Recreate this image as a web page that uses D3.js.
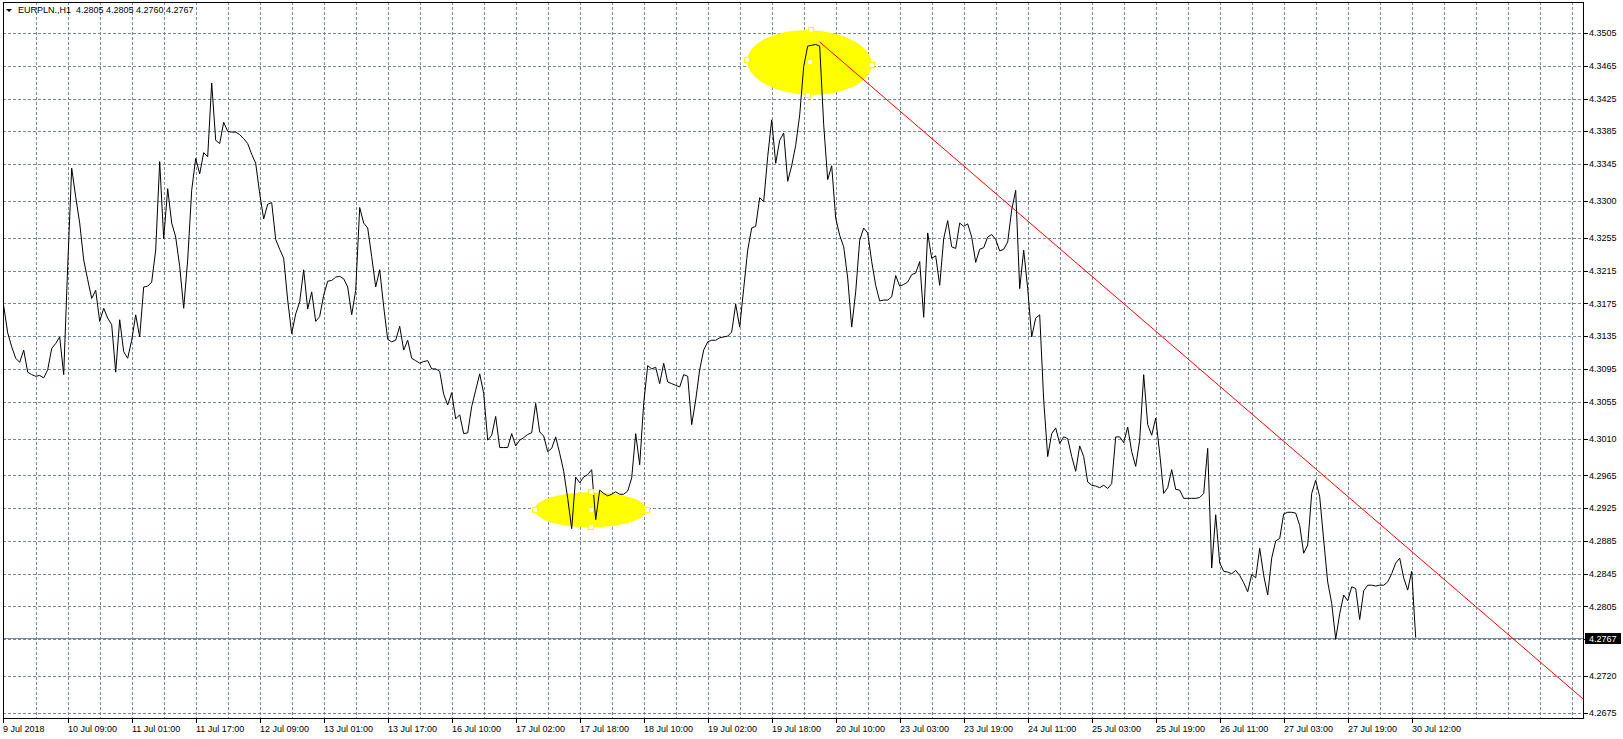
<!DOCTYPE html>
<html>
<head>
<meta charset="utf-8">
<script src="https://cdn.jsdelivr.net/npm/d3@7"></script>
<style>
    body { margin: 0; background: #fff; }
    svg text { font-family: Tahoma, "Liberation Sans", Arial, sans-serif; font-size: 9px; fill: #000; white-space: pre; }
</style>
</head>
<body>
<svg id="chart-svg" width="1623" height="739"></svg>
<script>
// EURPLN H1 closes, one per hourly bar
const symbol = 'EURPLN.,H1'
const lastBar = [4.2805, 4.2805, 4.2760, 4.2767]
const closes = [
    4.3172, 4.3139, 4.3122, 4.3108, 4.3103, 4.3118, 4.3091, 4.3088, 4.3086, 4.3087,
    4.3084, 4.3094, 4.3120, 4.3126, 4.3134, 4.3088, 4.3220, 4.3340, 4.3305, 4.3273,
    4.3228, 4.3204, 4.3181, 4.3191, 4.3153, 4.3169, 4.3157, 4.3149, 4.3091, 4.3155,
    4.3116, 4.3108, 4.3130, 4.3161, 4.3134, 4.3195, 4.3196, 4.3201, 4.3240, 4.3348,
    4.3254, 4.3315, 4.3273, 4.3256, 4.3220, 4.3169, 4.3228, 4.3313, 4.3352, 4.3333,
    4.3359, 4.3354, 4.3444, 4.3374, 4.3370, 4.3396, 4.3385, 4.3384, 4.3384, 4.3381,
    4.3376, 4.3370, 4.3357, 4.3346, 4.3309, 4.3278, 4.3296, 4.3298, 4.3253, 4.3241,
    4.3230, 4.3179, 4.3138, 4.3162, 4.3177, 4.3216, 4.3168, 4.3189, 4.3153, 4.3159,
    4.3185, 4.3202, 4.3203, 4.3207, 4.3208, 4.3205, 4.3195, 4.3161, 4.3191, 4.3292,
    4.3273, 4.3267, 4.3232, 4.3195, 4.3216, 4.3171, 4.3131, 4.3128, 4.3130, 4.3147,
    4.3118, 4.3130, 4.3108, 4.3105, 4.3102, 4.3104, 4.3105, 4.3095, 4.3095, 4.3092,
    4.3064, 4.3051, 4.3066, 4.3034, 4.3039, 4.3016, 4.3017, 4.3049, 4.3069, 4.3089,
    4.3065, 4.3008, 4.3014, 4.3037, 4.2999, 4.2999, 4.2999, 4.3016, 4.3001, 4.3008,
    4.3011, 4.3015, 4.3017, 4.3053, 4.3018, 4.3013, 4.2994, 4.2998, 4.3012, 4.2992,
    4.2970, 4.2937, 4.2900, 4.2963, 4.2956, 4.2963, 4.2966, 4.2972, 4.2911, 4.2947,
    4.2943, 4.2940, 4.2942, 4.2945, 4.2942, 4.2942, 4.2946, 4.2962, 4.3016, 4.2978,
    4.3053, 4.3099, 4.3095, 4.3097, 4.3077, 4.3102, 4.3079, 4.3077, 4.3075, 4.3073,
    4.3088, 4.3086, 4.3027, 4.3057, 4.3094, 4.3118, 4.3128, 4.3130, 4.3130, 4.3133,
    4.3134, 4.3135, 4.3140, 4.3174, 4.3146, 4.3193, 4.3240, 4.3267, 4.3269, 4.3304,
    4.3299, 4.3354, 4.3399, 4.3346, 4.3374, 4.3383, 4.3324, 4.3343, 4.3368, 4.3405,
    4.3464, 4.3489, 4.3490, 4.3491, 4.3489, 4.3393, 4.3326, 4.3343, 4.3279, 4.3258,
    4.3244, 4.3206, 4.3146, 4.3189, 4.3252, 4.3267, 4.3261, 4.3226, 4.3197, 4.3178,
    4.3179, 4.3179, 4.3183, 4.3209, 4.3196, 4.3198, 4.3201, 4.3210, 4.3212, 4.3226,
    4.3158, 4.3261, 4.3230, 4.3233, 4.3197, 4.3254, 4.3276, 4.3244, 4.3242, 4.3273,
    4.3269, 4.3272, 4.3256, 4.3225, 4.3241, 4.3243, 4.3256, 4.3259, 4.3253, 4.3239,
    4.3241, 4.3250, 4.3289, 4.3313, 4.3193, 4.3240, 4.3193, 4.3134, 4.3157, 4.3161,
    4.3057, 4.2988, 4.3016, 4.3023, 4.3004, 4.3012, 4.3010, 4.2988, 4.2970, 4.3001,
    4.2988, 4.2957, 4.2953, 4.2952, 4.2950, 4.2953, 4.2949, 4.2955, 4.3012, 4.3012,
    4.3005, 4.3024, 4.2994, 4.2976, 4.3008, 4.3088, 4.3027, 4.3014, 4.3035, 4.2992,
    4.2943, 4.2950, 4.2972, 4.2948, 4.2947, 4.2937, 4.2937, 4.2937, 4.2937, 4.2938,
    4.2943, 4.2998, 4.2852, 4.2917, 4.2858, 4.2848, 4.2847, 4.2845, 4.2849, 4.2843,
    4.2834, 4.2823, 4.2844, 4.2840, 4.2876, 4.2843, 4.2819, 4.2864, 4.2885, 4.2888,
    4.2918, 4.2920, 4.2920, 4.2919, 4.2904, 4.2870, 4.2880, 4.2943, 4.2959, 4.2939,
    4.2886, 4.2835, 4.2809, 4.2765, 4.2796, 4.2819, 4.2812, 4.2829, 4.2827, 4.2789,
    4.2824, 4.2831, 4.2831, 4.2830, 4.2831, 4.2831, 4.2835, 4.2845, 4.2858, 4.2864,
    4.2840, 4.2825, 4.2848, 4.2767
]

// price grid levels (4.2765 is covered by the bid label)
const priceTicks = [4.3505, 4.3465, 4.3425, 4.3385, 4.3345, 4.3300, 4.3255, 4.3215, 4.3175, 4.3135,
    4.3095, 4.3055, 4.3010, 4.2965, 4.2925, 4.2885, 4.2845, 4.2805, 4.2765, 4.2720, 4.2675]
const hiddenTick = 4.2765

// time labels, one every 16 bars, first one is the left edge
const timeLabels = ['9 Jul 2018', '10 Jul 09:00', '11 Jul 01:00', '11 Jul 17:00', '12 Jul 09:00',
    '13 Jul 01:00', '13 Jul 17:00', '16 Jul 10:00', '17 Jul 02:00', '17 Jul 18:00', '18 Jul 10:00',
    '19 Jul 02:00', '19 Jul 18:00', '20 Jul 10:00', '23 Jul 03:00', '23 Jul 19:00', '24 Jul 11:00',
    '25 Jul 03:00', '25 Jul 19:00', '26 Jul 11:00', '27 Jul 03:00', '27 Jul 19:00', '30 Jul 12:00']

// trend line anchors (bar, price) and the two marked zones
const trendBars = [204, 328]
const trendPrices = [4.3494, 4.2973]
const zoneBars = [201.45, 146.7]
const zonePrices = [4.3469, 4.2923]
const zoneHalfBars = [15.6, 14]
const zoneHalfPrices = [0.00394, 0.00215]

const plot = { left: 3, right: 1583, top: 2, bottom: 718 }
const gridColor = '#778899'

const svg = d3.select('#chart-svg')

const x = d3.scaleLinear().domain([0, 395]).range([3.7, 1583.7])
const y = d3.scaleLinear().domain([4.2675, 4.3505]).range([713, 33])
const snap = v => Math.round(v) + 0.5

svg.append('defs').append('clipPath').attr('id', 'plot-clip')
    .append('rect')
    .attr('x', plot.left).attr('y', plot.top)
    .attr('width', plot.right - plot.left).attr('height', plot.bottom - plot.top)

// grid
const grid = svg.append('g')
    .attr('stroke', gridColor)
    .attr('stroke-dasharray', '3,2')
    .attr('shape-rendering', 'crispEdges')

grid.selectAll('line.h')
    .data(priceTicks)
    .join('line')
    .attr('class', 'h')
    .attr('x1', plot.left).attr('x2', plot.right)
    .attr('y1', d => snap(y(d))).attr('y2', d => snap(y(d)))

grid.selectAll('line.v')
    .data(d3.range(8, 395, 8))
    .join('line')
    .attr('class', 'v')
    .attr('x1', d => snap(x(d))).attr('x2', d => snap(x(d)))
    .attr('y1', plot.top).attr('y2', plot.bottom)

// bid line
svg.append('line')
    .attr('x1', plot.left).attr('x2', plot.right)
    .attr('y1', snap(y(lastBar[3]))).attr('y2', snap(y(lastBar[3])))
    .attr('stroke', gridColor)
    .attr('shape-rendering', 'crispEdges')

const marks = svg.append('g').attr('clip-path', 'url(#plot-clip)')

// yellow zones, slightly tilted like the drawn objects
const zones = zoneBars.map((b, i) => ({
    cx: x(b), cy: y(zonePrices[i]),
    rx: x(b + zoneHalfBars[i]) - x(b),
    ry: y(zonePrices[i] - zoneHalfPrices[i]) - y(zonePrices[i]),
    tilt: i == 0 ? 2 : 0
}))

marks.selectAll('ellipse')
    .data(zones)
    .join('ellipse')
    .attr('cx', d => d.cx).attr('cy', d => d.cy)
    .attr('rx', d => d.rx).attr('ry', d => d.ry)
    .attr('transform', d => `rotate(${d.tilt},${d.cx},${d.cy})`)
    .attr('fill', '#ffff00')

// price line
const line = d3.line()
    .x((d, i) => x(i))
    .y(d => y(d))

marks.append('path')
    .datum(closes)
    .attr('d', line)
    .attr('fill', 'none')
    .attr('stroke', '#000')
    .attr('stroke-width', 1)

// trend line, extended as a ray to the right edge
const slope = (trendPrices[1] - trendPrices[0]) / (trendBars[1] - trendBars[0])
const endBar = x.invert(plot.right)
marks.append('line')
    .attr('x1', x(trendBars[0])).attr('y1', y(trendPrices[0]))
    .attr('x2', x(endBar)).attr('y2', y(trendPrices[0] + slope * (endBar - trendBars[0])))
    .attr('stroke', '#ff0000')
    .attr('stroke-width', 1)

// selection handles of the zones
const handles = []
zones.forEach(z => {
    const a = z.tilt * Math.PI / 180
    const pts = [[0, 0], [-z.rx, 0], [z.rx, 0], [0, -z.ry], [0, z.ry]]
    pts.forEach(p => handles.push({
        x: z.cx + p[0] * Math.cos(a) - p[1] * Math.sin(a),
        y: z.cy + p[0] * Math.sin(a) + p[1] * Math.cos(a)
    }))
})
svg.append('g').selectAll('rect')
    .data(handles)
    .join('rect')
    .attr('x', d => Math.round(d.x) - 2.5).attr('y', d => Math.round(d.y) - 2.5)
    .attr('width', 5).attr('height', 5)
    .attr('fill', '#fff')
    .attr('stroke', '#ffff00')
    .attr('shape-rendering', 'crispEdges')

// frame
svg.append('rect')
    .attr('x', plot.left + 0.5).attr('y', plot.top + 0.5)
    .attr('width', plot.right - plot.left).attr('height', plot.bottom - plot.top)
    .attr('fill', 'none')
    .attr('stroke', '#000')
    .attr('shape-rendering', 'crispEdges')

// price axis
const yAxis = svg.append('g')
yAxis.selectAll('line')
    .data(priceTicks)
    .join('line')
    .attr('x1', plot.right + 1).attr('x2', plot.right + 5)
    .attr('y1', d => snap(y(d))).attr('y2', d => snap(y(d)))
    .attr('stroke', '#000')
    .attr('shape-rendering', 'crispEdges')
yAxis.selectAll('text')
    .data(priceTicks.filter(d => d !== hiddenTick))
    .join('text')
    .attr('x', plot.right + 6)
    .attr('y', d => y(d))
    .attr('dy', '0.35em')
    .text(d => d.toFixed(4))

// bid label
const bidY = Math.round(y(lastBar[3]))
svg.append('rect')
    .attr('x', plot.right + 2).attr('y', bidY - 5)
    .attr('width', 36).attr('height', 11)
    .attr('fill', '#000')
svg.append('text')
    .attr('x', plot.right + 6).attr('y', bidY + 0.5)
    .attr('dy', '0.35em')
    .style('fill', '#fff')
    .text(lastBar[3].toFixed(4))

// time axis
const xAxis = svg.append('g')
xAxis.selectAll('line')
    .data(timeLabels)
    .join('line')
    .attr('x1', (d, i) => i == 0 ? plot.left + 0.5 : snap(x(i * 16)))
    .attr('x2', (d, i) => i == 0 ? plot.left + 0.5 : snap(x(i * 16)))
    .attr('y1', plot.bottom + 1).attr('y2', plot.bottom + 5)
    .attr('stroke', '#000')
    .attr('shape-rendering', 'crispEdges')
xAxis.selectAll('text')
    .data(timeLabels)
    .join('text')
    .attr('x', (d, i) => i == 0 ? plot.left : Math.round(x(i * 16)))
    .attr('y', 732)
    .text(d => d)

// title
svg.append('path')
    .attr('d', 'M6,9 L12,9 L9,12 Z')
    .attr('fill', '#000')
svg.append('text')
    .attr('x', 18).attr('y', 13)
    .text(`${symbol}  ${lastBar.map(d => d.toFixed(4)).join(' ')}`)
</script>
</body>
</html>
